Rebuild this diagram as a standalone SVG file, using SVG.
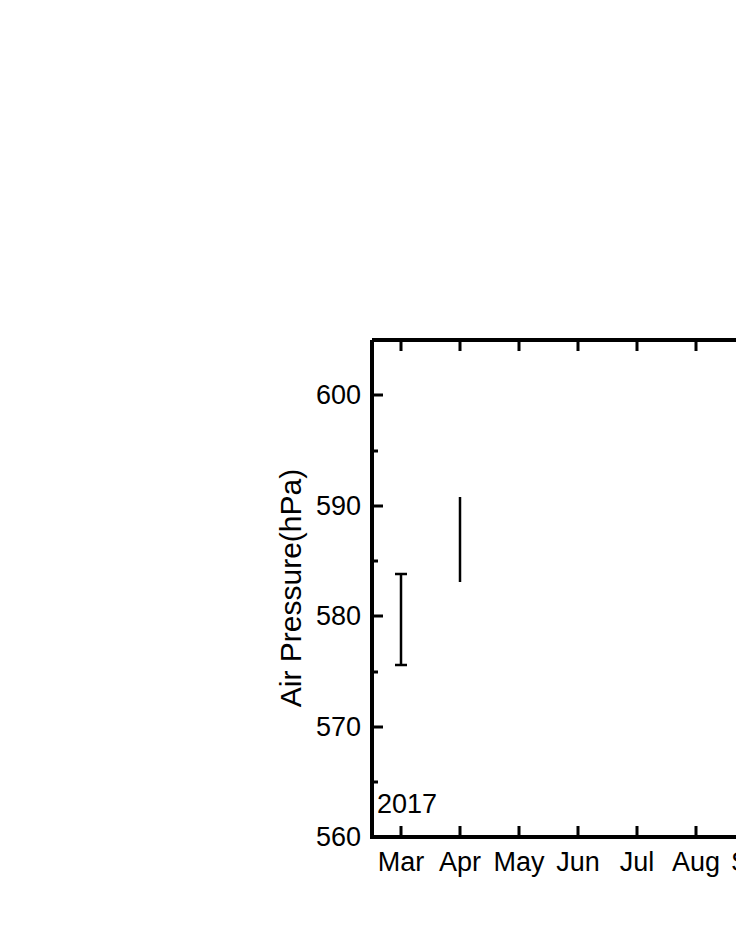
<svg xmlns="http://www.w3.org/2000/svg" width="736" height="952" viewBox="0 0 736 952">
<style>
text{font-family:"Liberation Sans",Arial,sans-serif;fill:#000}
.t{font-size:27px}
.ax{stroke:#000;stroke-width:4;fill:none}
.tk{stroke:#000;stroke-width:3}
.eb{stroke:#000;stroke-width:2.5;fill:none}
.dn{fill:#ff0000}
.up{fill:#0000ff}
.st{stroke:#ff00ff;stroke-width:1.5;fill:none}
</style>
<defs>
<path id="d" d="M-10,-8 L10,-8 L0,9 Z"/>
<path id="u" d="M-10,8 L10,8 L0,-9 Z"/>
<path id="s" d="M-10,0 H10 M0,-10 V10 M-7,-7 L7,7 M-7,7 L7,-7"/>
</defs>
<rect width="736" height="952" fill="#fff"/>
<g id="axes">
<path class="ax" d="M372,340 V837 H740 M372,340 H740"/>
<path class="tk" d="M372,395 h11 M372,506 h11 M372,616 h11 M372,727 h11 M372,451 h6 M372,561 h6 M372,672 h6 M372,782 h6"/>
<path class="tk" d="M401,837 v-11 M460,837 v-11 M519,837 v-11 M578,837 v-11 M637,837 v-11 M696,837 v-11 M401,340 v11 M460,340 v11 M519,340 v11 M578,340 v11 M637,340 v11 M696,340 v11"/>
<g class="t" text-anchor="end">
<text x="361" y="404">600</text><text x="361" y="515">590</text><text x="361" y="625">580</text><text x="361" y="736">570</text><text x="361" y="846">560</text>
</g>
<g class="t" text-anchor="middle">
<text x="401" y="871">Mar</text><text x="460" y="871">Apr</text><text x="519" y="871">May</text><text x="578" y="871">Jun</text><text x="637" y="871">Jul</text><text x="696" y="871">Aug</text><text x="755" y="871">Sep</text>
</g>
<text class="t" x="377" y="813">2017</text>
<text x="301" y="588" font-size="30" text-anchor="middle" transform="rotate(-90 301 588)">Air Pressure(hPa)</text>
</g>
<g id="errorbars" class="eb">
<path d="M401,574 V665 M395,574 h12 M395,665 h12"/>
<path d="M460,497 V582 M454,497 h12 M454,582 h12" transform="translate(0,0)" opacity="0"/>
<path d="M460,497 V592 M454,497 h12 M454,592 h12" opacity="0"/>
<path d="M460,497 V582"/>
<path d="M460,497 V497"/>
</g>
</svg>
